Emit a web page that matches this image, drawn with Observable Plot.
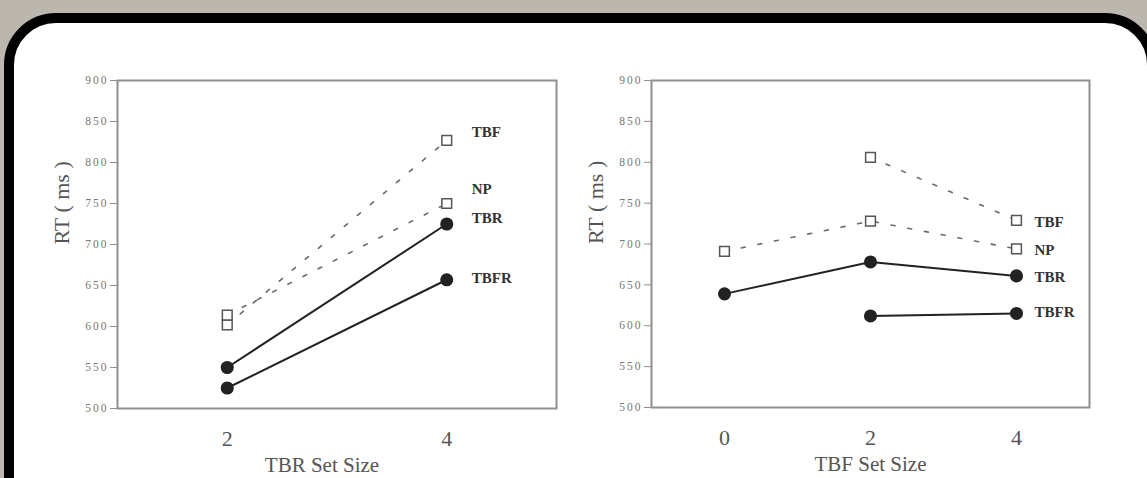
<!DOCTYPE html>
<html>
<head>
<meta charset="utf-8">
<script src="https://cdn.jsdelivr.net/npm/d3@7"></script>
<script src="https://cdn.jsdelivr.net/npm/@observablehq/plot@0.6"></script>
<style>
  html, body { margin: 0; padding: 0; overflow: hidden; }
  body { width: 1147px; height: 478px; background: #bbb7af; position: relative; }
  #card { position: absolute; left: 4px; top: 13px; width: 1133px; height: 520px; background: #fff;
          border: 10px solid #000; border-radius: 52px; box-sizing: content-box; }
  #charts { position: absolute; left: 0; top: 0; width: 1147px; height: 478px; display: flex; }
  #charts svg { display: block; flex: none; }
  #charts g[aria-label="y-axis tick label"] text { letter-spacing: 2px; }
</style>
</head>
<body>
<div id="card"></div>
<div id="charts"></div>
<script>
// ---- Data ----
const seriesNames = ["TBF", "NP", "TBR", "TBFR"];

// Left panel: TBR set size
const leftX = [2, 4];
const leftTBF = [602, 827];
const leftNP = [614, 750];
const leftTBR = [550, 725];
const leftTBFR = [525, 657];

// Right panel: TBF set size
const rightX = [0, 2, 4];
const rightTBF = [null, 806, 729];
const rightNP = [691, 728, 694];
const rightTBR = [639, 678, 661];
const rightTBFR = [null, 612, 615];

const yTicks = [500, 550, 600, 650, 700, 750, 800, 850, 900];
const leftXTicks = [2, 4];
const rightXTicks = [0, 2, 4];
const leftXLabel = "TBR Set Size";
const rightXLabel = "TBF Set Size";
const yLabel = "RT ( ms )";

function rows(xs, seriesMap) {
  const out = [];
  for (const name of seriesNames) {
    seriesMap[name].forEach((v, i) => { if (v != null) out.push({x: xs[i], y: v, series: name}); });
  }
  return out;
}

const leftData = rows(leftX, {TBF: leftTBF, NP: leftNP, TBR: leftTBR, TBFR: leftTBFR});
const rightData = rows(rightX, {TBF: rightTBF, NP: rightNP, TBR: rightTBR, TBFR: rightTBFR});

const dashed = new Set(["TBF", "NP"]);

function panel({data, xDomain, xTicks, xLabel, width, marginLeft, marginRight, marginBottom, labelDx, labelOffsets, xLabelDx}) {
  const lastOf = name => {
    const pts = data.filter(d => d.series === name);
    return pts[pts.length - 1];
  };
  const labelMarks = seriesNames.map(name => Plot.text([lastOf(name)], {
    x: "x", y: "y", text: "series", textAnchor: "start", dx: labelDx, dy: labelOffsets[name],
    fontSize: 15, fontWeight: "bold", fill: "#333", letterSpacing: 0.6
  }));
  return Plot.plot({
    width, height: 478,
    marginLeft, marginRight, marginTop: 80, marginBottom,
    style: {fontFamily: "'Liberation Serif', 'Times New Roman', serif", background: "transparent", overflow: "visible"},
    x: {domain: xDomain},
    y: {domain: [500, 900]},
    marks: [
      Plot.frame({stroke: "#8f8f8f", strokeWidth: 2}),
      Plot.axisY({ticks: yTicks, tickSize: 7, tickPadding: 2, fontSize: 11.5, color: "#777", stroke: "#8f8f8f", label: null}),
      Plot.axisX({ticks: xTicks, tickFormat: "d", tickSize: 0, tickPadding: 22, fontSize: 22, color: "#555", label: null}),
      Plot.text([yLabel], {frameAnchor: "left", rotate: -90, dx: -56, fontSize: 22, fill: "#555", letterSpacing: 2}),
      Plot.text([xLabel], {frameAnchor: "bottom", dy: 63, dx: xLabelDx, fontSize: 21, fill: "#555"}),
      Plot.line(data.filter(d => dashed.has(d.series)), {x: "x", y: "y", z: "series", stroke: "#6a6a6a", strokeWidth: 1.6, strokeDasharray: "4,13"}),
      Plot.line(data.filter(d => !dashed.has(d.series)), {x: "x", y: "y", z: "series", stroke: "#222", strokeWidth: 2}),
      Plot.dot(data.filter(d => dashed.has(d.series)), {x: "x", y: "y", symbol: "square", r: 5.5, fill: "#fff", stroke: "#555", strokeWidth: 1.5}),
      Plot.dot(data.filter(d => !dashed.has(d.series)), {x: "x", y: "y", r: 5.8, fill: "#222", stroke: "#222"}),
      ...labelMarks
    ]
  });
}

const left = panel({
  data: leftData, xDomain: [1, 5], xTicks: leftXTicks, xLabel: leftXLabel,
  width: 573, marginLeft: 117, marginRight: 17, marginBottom: 70, labelDx: 25, xLabelDx: -15,
  labelOffsets: {TBF: -8, NP: -14, TBR: -6, TBFR: -2}
});
const right = panel({
  data: rightData, xDomain: [-1, 5], xTicks: rightXTicks, xLabel: rightXLabel,
  width: 574, marginLeft: 78, marginRight: 58, marginBottom: 71, labelDx: 18, xLabelDx: 0,
  labelOffsets: {TBF: 2, NP: 1, TBR: 1, TBFR: -1}
});
const host = document.getElementById("charts");
host.append(left, right);
</script>
</body>
</html>
